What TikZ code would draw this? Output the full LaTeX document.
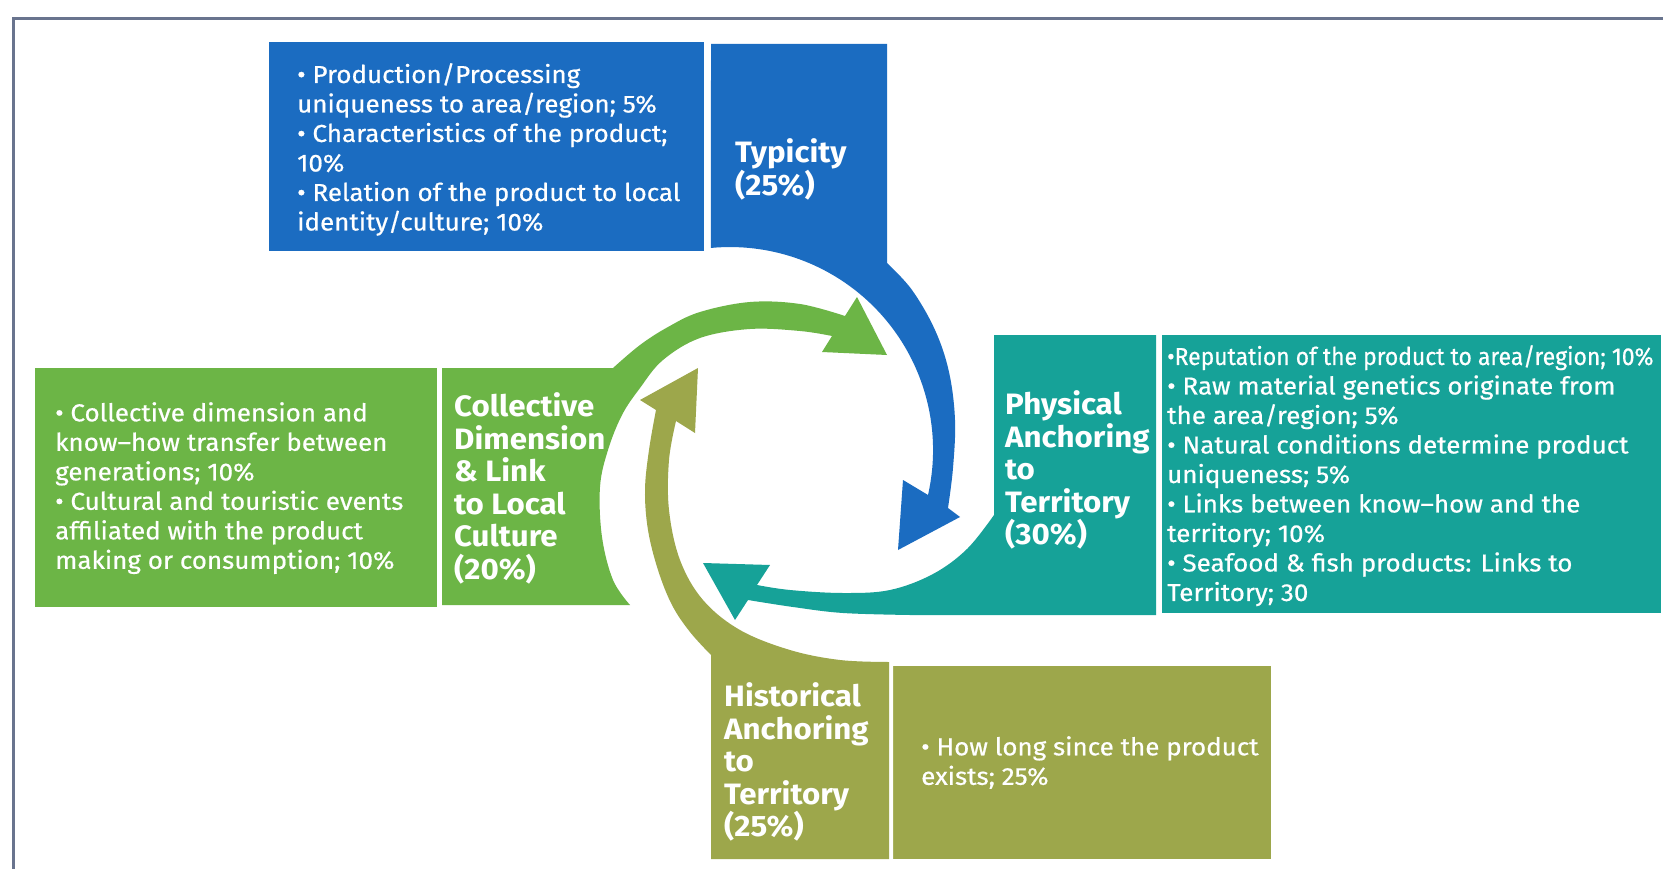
\documentclass[tikz,border=0pt]{standalone}
\usepackage{fontspec}
\setmainfont{Fira Sans}
\newfontfamily\bodyfont[FakeStretch=1.06, FakeBold=0.6]{Fira Sans}
\newfontfamily\condfont[FakeStretch=0.935, FakeBold=0.6]{Fira Sans}
\newfontfamily\labfont[FakeStretch=1.06]{Fira Sans}
\definecolor{cblue}{RGB}{27,108,193}
\definecolor{cteal}{RGB}{22,162,152}
\definecolor{cgreen}{RGB}{108,181,70}
\definecolor{colive}{RGB}{157,167,75}
\definecolor{cframe}{RGB}{105,116,142}
\begin{document}
\begin{tikzpicture}[x=1pt,y=-1pt,
  body/.style={text=white, align=left, inner sep=0pt, anchor=north west, font=\bodyfont\fontsize{24.5}{29.5}\selectfont},
  lab/.style={text=white, align=left, inner sep=0pt, anchor=north west, font=\labfont\fontsize{29.5}{32.5}\selectfont\bfseries},
  halo/.style={preaction={draw=white, line width=8pt, line join=round}}]
\path[use as bounding box, fill=white] (0,0) rectangle (1663,869);
% frame
\draw[cframe, line width=3pt] (13.5,869) -- (13.5,19) -- (1663,19);
% text boxes
\fill[cblue] (269,42) rectangle (704,251);
\fill[cteal] (1162,335) rectangle (1661,613);
\fill[cgreen] (35,368) rectangle (437,607);
\fill[colive] (893,666) rectangle (1271,859);
% green label + arrow
\path[fill=cgreen] (442,605) -- (442,368) -- (613,368)
  -- plot[smooth, tension=0.6] coordinates {(613,368) (640,345) (668,327) (700,312) (750,302) (800,304) (845,316)}
  -- (857,297) -- (887,355) -- (822,352) -- (832,336)
  -- plot[smooth, tension=0.6] coordinates {(832,336) (800,331) (750,329) (700,338) (663,360) (640,388) (622,415) (608,450) (600,487) (602,537) (613,580) (630,605)}
  -- cycle;
% olive label + arrow
\path[fill=colive, halo] (711,859) -- (711,655)
  -- plot[smooth, tension=0.6] coordinates {(711,655) (690,632) (672,605) (658,570) (648,530) (645,490) (649,450) (656,410)}
  -- (640,400) -- (698,368) -- (695,433) -- (676,421)
  -- plot[smooth, tension=0.6] coordinates {(676,421) (669,460) (669,510) (680,560) (703,600) (740,630) (790,650) (840,660) (889,662)}
  -- (889,859) -- cycle;
% blue label + arrow
\path[fill=cblue, halo] (711,44) -- (887,44) -- (887,263)
  -- plot[smooth, tension=0.6] coordinates {(887,263) (912,290) (935,330) (949,372) (955,420) (953,468) (948,508)}
  -- (960,517) -- (898,550) -- (903,480) -- (928,495)
  arc[start angle=12.8, end angle=-95.4, radius=203] -- cycle;
% teal label + arrow
\path[fill=cteal, halo] (994,335) -- (1156,335) -- (1156,615) -- (910,615)
  -- plot[smooth, tension=0.6] coordinates {(910,615) (843,613) (793,607) (748,600)}
  -- (735,620) -- (703,563) -- (770,565) -- (757,585)
  -- plot[smooth, tension=0.6] coordinates {(757,585) (790,590) (843,593) (890,590) (933,574) (967,549) (994,515)}
  -- cycle;
% labels
\node[lab] (typl) at (735,138.5) {Typicity\\(25\%)};
\node[lab] (phyl) at (1005,390.5) {Physical\\Anchoring\\to\\Territory\\(30\%)};
\node[lab] (coll) at (454,392.5) {Collective\\Dimension\\\& Link\\to Local\\Culture\\(20\%)};
\node[lab] (hisl) at (724,682.5) {Historical\\Anchoring\\to\\Territory\\(25\%)};
% texts
\node[body] (typt) at (297,63) {• Production/Processing\\uniqueness to area/region; 5\%\\• Characteristics of the product;\\10\%\\• Relation of the product to local\\identity/culture; 10\%};
\node[body] (phyt) at (1167,345) {{\condfont •Reputation of the product to area/region; 10\%}\\• Raw material genetics originate from\\the area/region; 5\%\\• Natural conditions determine product\\uniqueness; 5\%\\• Links between know–how and the\\territory; 10\%\\• Seafood \& fish products: Links to\\Territory; 30};
\node[body] (colt) at (55,402) {• Collective dimension and\\know–how transfer between\\generations; 10\%\\• Cultural and touristic events\\affiliated with the product\\making or consumption; 10\%};
\node[body] (hist) at (921,736) {• How long since the product\\exists; 25\%};
\end{tikzpicture}
\end{document}
